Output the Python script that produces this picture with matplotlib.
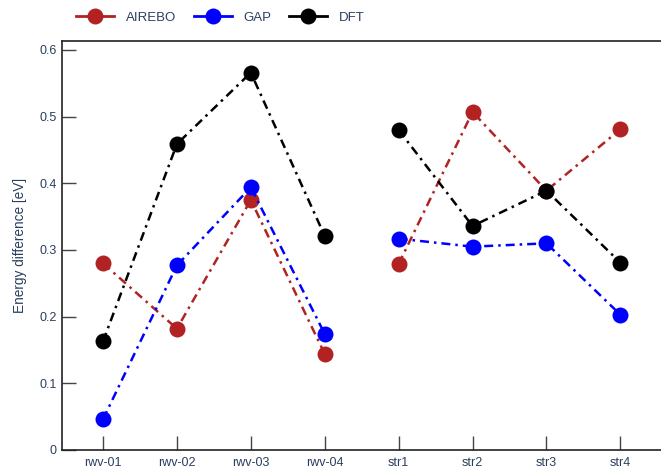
import matplotlib
matplotlib.use("Agg")
import matplotlib.pyplot as plt
from matplotlib.lines import Line2D

plt.rcParams["font.family"] = ["Liberation Sans", "DejaVu Sans"]

structures = ["rwv-01", "rwv-02", "rwv-03", "rwv-04", "str1", "str2", "str3", "str4"]
airebo = [0.280, 0.182, 0.375, 0.144, 0.279, 0.507, 0.389, 0.481]
gap = [0.046, 0.277, 0.394, 0.174, 0.317, 0.305, 0.310, 0.203]
dft = [0.163, 0.459, 0.566, 0.321, 0.480, 0.336, 0.389, 0.281]

series = [("AIREBO", airebo, "#b22222"), ("GAP", gap, "#0000ff"), ("DFT", dft, "#000000")]
groups = [(0, 4), (4, 8)]

text_color = "#2a3f5f"
dash = (0, (3.6, 2.0, 1.0, 2.0))

fig = plt.figure(figsize=(6.61, 4.68), dpi=100)
ax = fig.add_axes([0.0938, 0.0385, 0.9062, 0.8739])

x = list(range(len(structures)))
for i, (name, vals, color) in enumerate(series):
    for a, b in groups:
        ax.plot(x[a:b], vals[a:b], linestyle=dash, color=color, linewidth=1.8,
                marker="o", markersize=11.5, markeredgewidth=0, zorder=2 + i)

ax.set_xlim(-0.555, 7.55)
ax.set_ylim(0, 0.6135)
ax.set_xticks(x)
ax.set_xticklabels(structures)
ax.set_yticks([0, 0.1, 0.2, 0.3, 0.4, 0.5, 0.6])
ax.set_yticklabels(["0", "0.1", "0.2", "0.3", "0.4", "0.5", "0.6"])

ax.tick_params(axis="both", direction="in", length=10, width=1.0, color="#444444",
               labelcolor=text_color, labelsize=9)
ax.tick_params(axis="x", pad=5)
ax.tick_params(axis="y", pad=4)

for side in ["left", "bottom", "top"]:
    ax.spines[side].set_color("#222222")
    ax.spines[side].set_linewidth(1.2)
ax.spines["right"].set_visible(False)

ax.set_ylabel("Energy difference [eV]", color=text_color, fontsize=9.8, labelpad=9)

handles = [Line2D([], [], color=c, linewidth=2.0, marker="o", markersize=11.5,
                  markeredgewidth=0) for _, _, c in series]
leg = fig.legend(handles, [n for n, _, _ in series], loc="center left",
                 bbox_to_anchor=(0.107, 0.962), ncol=3, frameon=False,
                 fontsize=9.5, handlelength=2.9, handletextpad=0.9,
                 columnspacing=1.3, borderaxespad=0)
for t in leg.get_texts():
    t.set_color(text_color)

fig.savefig("out.png", dpi=100)
